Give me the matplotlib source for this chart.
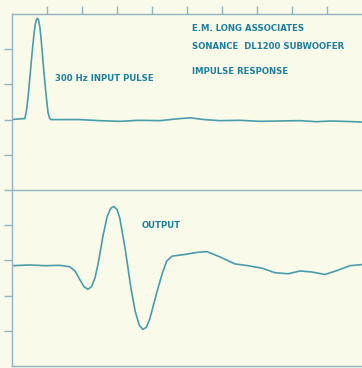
import matplotlib
matplotlib.use("Agg")
import matplotlib.pyplot as plt
import numpy as np

# Input pulse trace (x in divisions 0..10, y in divisions 0..10)
input_x = [0.0, 0.2, 0.37, 0.42, 0.47, 0.52, 0.57, 0.62, 0.66, 0.70, 0.73, 0.76, 0.80, 0.84, 0.89,
           0.94, 0.99, 1.03, 1.07, 1.11, 1.4, 1.94, 2.5, 3.09, 3.6, 4.23, 4.7, 5.09, 5.5, 5.94, 6.5,
           7.09, 7.6, 8.23, 8.7, 9.09, 9.5, 10.0]
input_y = [7.0, 7.02, 7.03, 7.3, 7.75, 8.3, 8.85, 9.35, 9.68, 9.85, 9.88, 9.82, 9.6, 9.2, 8.6,
           8.05, 7.55, 7.2, 7.05, 7.0, 7.0, 7.0, 6.97, 6.95, 6.98, 6.97, 7.02, 7.05, 7.0, 6.97, 6.98,
           6.95, 6.96, 6.97, 6.94, 6.96, 6.95, 6.93]

# Output trace
output_x = [0.0, 0.51, 0.94, 1.37, 1.65, 1.80, 1.94, 2.06, 2.17, 2.27, 2.37, 2.46, 2.6, 2.72, 2.82,
            2.91, 3.0, 3.08, 3.23, 3.4, 3.52, 3.64, 3.74, 3.84, 3.94, 4.14, 4.3, 4.42, 4.57, 4.94,
            5.31, 5.57, 5.94, 6.37, 6.74, 7.14, 7.51, 7.89, 8.23, 8.57, 8.94, 9.31, 9.66, 10.0]
output_y = [2.85, 2.87, 2.85, 2.86, 2.82, 2.7, 2.45, 2.25, 2.18, 2.25, 2.5, 2.9, 3.7, 4.25, 4.48,
            4.53, 4.45, 4.2, 3.35, 2.2, 1.55, 1.15, 1.04, 1.1, 1.35, 2.1, 2.65, 2.98, 3.12, 3.17,
            3.23, 3.25, 3.1, 2.9, 2.85, 2.78, 2.65, 2.62, 2.7, 2.67, 2.6, 2.72, 2.85, 2.88]

title_lines = ["E.M. LONG ASSOCIATES", "SONANCE  DL1200 SUBWOOFER", "IMPULSE RESPONSE"]
input_label = "300 Hz INPUT PULSE"
output_label = "OUTPUT"

bg = "#f9faea"
trace_color = "#4a9cab"
text_color = "#1d7f9c"
frame_color = "#8fb3c2"

fig = plt.figure(figsize=(3.62, 3.68), dpi=100, facecolor=bg)
ax = fig.add_axes([12/362, 2/368, 350/362, 352/368], facecolor=bg)
ax.set_xlim(0, 10)
ax.set_ylim(0, 10)

for s in ax.spines.values():
    s.set_color(frame_color)
    s.set_linewidth(1.0)
ax.spines["right"].set_visible(False)

ax.set_xticks(np.arange(1, 10))
ax.set_yticks(np.arange(1, 10))
ax.tick_params(axis="x", direction="out", top=True, bottom=False, labeltop=False,
               labelbottom=False, length=6, color=frame_color, width=1)
ax.tick_params(axis="y", direction="out", left=True, labelleft=False, length=6,
               color=frame_color, width=1)

ax.axhline(5, color=frame_color, lw=1.0)

ax.plot(input_x, input_y, color=trace_color, lw=1.2)
ax.plot(output_x, output_y, color=trace_color, lw=1.2)

font = ["DejaVu Sans"]
fs = 6.8
kw = dict(color=text_color, fontsize=fs, fontweight="bold", family=font,
          fontstretch="condensed", va="center", ha="left")
ax.text(5.14, 9.58, title_lines[0], **kw)
ax.text(5.14, 9.07, title_lines[1], **kw)
ax.text(5.14, 8.38, title_lines[2], **kw)
ax.text(1.23, 8.18, input_label, **kw)
ax.text(3.69, 4.0, output_label, **kw)

fig.savefig("out.png", dpi=100, facecolor=bg)
